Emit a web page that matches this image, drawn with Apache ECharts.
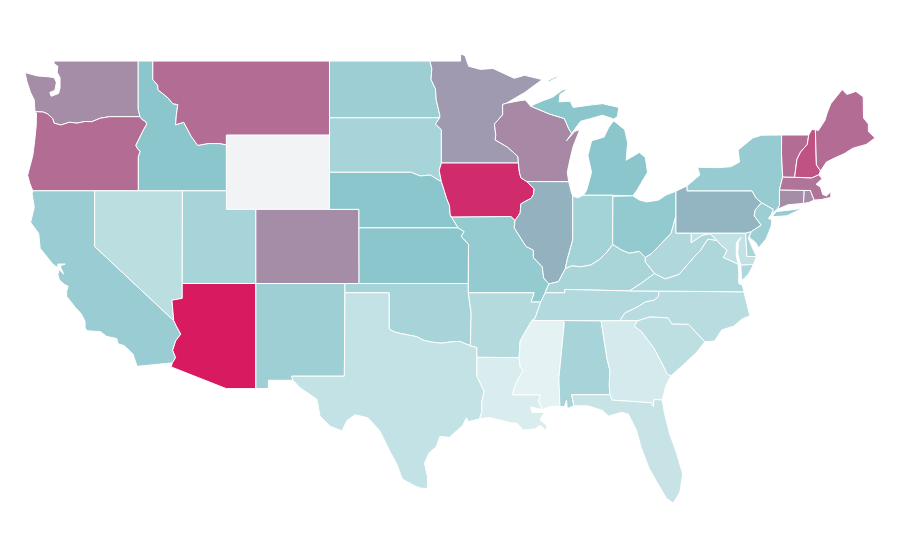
<html>
<head>
<meta charset="utf-8">
<script src="https://cdn.jsdelivr.net/npm/echarts@6/dist/echarts.min.js"></script>
<style>
html, body { margin: 0; background: #fff; }
#main { width: 900px; height: 560px; }
</style>
</head>
<body>
<div id="main"></div>
<script>
var stateNames = ['Washington','Oregon','California','Idaho','Nevada','Montana','Wyoming','Utah','Arizona','Colorado','New Mexico','North Dakota','South Dakota','Nebraska','Kansas','Oklahoma','Texas','Minnesota','Iowa','Missouri','Arkansas','Louisiana','Wisconsin','Illinois','Michigan','Indiana','Ohio','Kentucky','Tennessee','Mississippi','Alabama','Georgia','Florida','South Carolina','North Carolina','Virginia','West Virginia','Maryland','Delaware','Pennsylvania','New Jersey','New York','Connecticut','Rhode Island','Massachusetts','Vermont','New Hampshire','Maine'];
// Wyoming has no value in the picture
var stateValues = [67,76,42,50,24,76,null,35,100,67,40,41,35,50,50,35,20,63,95,45,28,8,68,56,50,37,46,34,29,2,35,11,18,23,26,31,30,21,34,55,41,44,67,67,74,76,84,76];
var colorStops = ['#e8f4f5','#8bc6cc','#d81b60'];
var noDataColor = '#f2f3f5';

// base map outlines, lon/lat pairs
var stateOutlines = {
Washington:[[-124.73,48.38,-124.6,47.9,-124.35,47.3,-124.1,46.9,-124.05,46.27,-123.5,46.25,-123.2,46.15,-122.85,45.9,-122.75,45.65,-122.3,45.55,-121.7,45.7,-121.2,45.65,-120.65,45.74,-120.2,45.73,-119.6,45.92,-118.98,46,-116.92,46,-117.04,46.4,-117.04,49,-122.76,49,-122.75,48.85,-122.5,48.72,-122.55,48.4,-122.35,48.1,-122.35,47.55,-122.45,47.25,-122.95,47.1,-123.05,47.3,-122.7,47.42,-122.6,47.85,-122.75,48.1,-123.15,48.15,-123.9,48.2]],
Oregon:[[-124.55,42.84,-124.4,43.3,-124.2,43.9,-124.07,44.7,-123.97,45.5,-123.95,46.2,-124.05,46.27,-123.5,46.25,-123.2,46.15,-122.85,45.9,-122.75,45.65,-122.3,45.55,-121.7,45.7,-121.2,45.65,-120.65,45.74,-120.2,45.73,-119.6,45.92,-118.98,46,-116.92,46,-116.78,45.85,-116.55,45.75,-116.46,45.6,-116.67,45.3,-116.85,45.02,-117.2,44.45,-117.05,44.23,-116.9,44.15,-117.03,43.83,-117.03,42,-124.2,42,-124.4,42.4]],
California:[[-124.2,42,-120,42,-120,39,-114.63,35,-114.45,34.7,-114.15,34.27,-114.5,33.9,-114.7,33.4,-114.5,33,-114.72,32.72,-117.12,32.53,-117.25,32.85,-117.4,33.2,-118,33.65,-118.4,33.75,-118.5,34.03,-119.2,34.15,-119.6,34.4,-120.5,34.45,-120.65,34.6,-120.65,34.95,-120.9,35.35,-121.3,35.7,-121.9,36.3,-121.9,36.6,-121.8,36.85,-122.05,36.95,-122.4,37.2,-122.5,37.5,-122.4,37.75,-122.1,37.5,-122.35,37.95,-122,38.05,-122.5,38.05,-122.5,37.85,-122.85,38.05,-123.7,38.9,-123.8,39.7,-124.35,40.3,-124.1,41.1,-124.25,41.85]],
Idaho:[[-117.04,49,-116.05,49,-116.05,48,-115.72,47.7,-115.7,47.45,-115,47,-114.7,46.7,-114.35,46.65,-114.45,46.1,-114.5,45.56,-113.95,45.7,-113.45,44.95,-113,44.45,-112.3,44.55,-111.5,44.55,-111.05,44.48,-111.05,42,-117.03,42,-117.03,43.83,-116.9,44.15,-117.05,44.23,-117.2,44.45,-116.85,45.02,-116.67,45.3,-116.46,45.6,-116.55,45.75,-116.78,45.85,-116.92,46,-117.04,46.4]],
Nevada:[[-120,42,-114.04,42,-114.05,37,-114.05,36.2,-114.75,36.1,-114.63,35,-120,39]],
Montana:[[-116.05,49,-104.05,49,-104.05,45,-111.05,45,-111.05,44.48,-111.5,44.55,-112.3,44.55,-113,44.45,-113.45,44.95,-113.95,45.7,-114.5,45.56,-114.45,46.1,-114.35,46.65,-114.7,46.7,-115,47,-115.7,47.45,-115.72,47.7,-116.05,48]],
Wyoming:[[-111.05,45,-104.05,45,-104.05,41,-111.05,41]],
Utah:[[-114.04,42,-111.05,42,-111.05,41,-109.05,41,-109.05,37,-114.05,37]],
Arizona:[[-114.05,37,-109.05,37,-109.05,31.33,-111.07,31.33,-114.8,32.5,-114.72,32.72,-114.5,33,-114.7,33.4,-114.5,33.9,-114.15,34.27,-114.45,34.7,-114.63,35,-114.75,36.1,-114.05,36.2]],
Colorado:[[-109.05,41,-102.05,41,-102.04,37,-109.05,37]],
'New Mexico':[[-109.05,37,-103,37,-103.04,32,-106.62,32,-106.53,31.78,-108.2,31.78,-108.2,31.33,-109.05,31.33]],
'North Dakota':[[-104.05,49,-97.23,49,-97.1,48.6,-97.15,48,-96.85,47.5,-96.8,46.9,-96.56,46.1,-96.56,45.94,-104.05,45.94]],
'South Dakota':[[-104.05,45.94,-96.56,45.94,-96.85,45.6,-96.45,45.3,-96.45,43.5,-96.6,43.1,-96.45,42.5,-96.7,42.6,-97.2,42.85,-97.9,42.8,-98.5,43,-104.05,43]],
Nebraska:[[-104.05,43,-98.5,43,-97.9,42.8,-97.2,42.85,-96.7,42.6,-96.45,42.5,-96.25,42,-96.1,41.6,-95.9,41.2,-95.85,40.7,-95.31,40,-102.05,40,-102.05,41,-104.05,41]],
Kansas:[[-102.05,40,-95.31,40,-94.9,39.8,-95.1,39.55,-94.61,39.11,-94.62,37,-102.04,37]],
Oklahoma:[[-103,37,-94.62,37,-94.62,36.5,-94.43,35.4,-94.48,33.64,-95.2,33.88,-95.8,33.85,-96.5,33.78,-97.2,33.85,-97.7,33.95,-98.1,34.13,-99.2,34.3,-99.7,34.4,-100,34.56,-100,36.5,-103,36.5]],
Texas:[[-103,36.5,-100,36.5,-100,34.56,-99.7,34.4,-99.2,34.3,-98.1,34.13,-97.7,33.95,-97.2,33.85,-96.5,33.78,-95.8,33.85,-95.2,33.88,-94.48,33.64,-94.04,33.55,-94.04,33.02,-94.04,32,-93.55,31.2,-93.7,30.6,-93.7,30.1,-93.85,29.7,-94.6,29.55,-94.75,29.75,-95,29.35,-95.9,28.7,-96.55,28.75,-96.8,28.2,-97.3,27.85,-97.6,27.3,-97.4,26.6,-97.4,25.95,-97.8,25.95,-98.3,26.1,-99.1,26.45,-99.5,27.3,-99.95,27.95,-100.63,29.05,-101.44,29.76,-102.33,29.92,-102.87,29.6,-103.2,29.05,-104,29.3,-104.7,29.86,-104.9,30.75,-106.05,31.38,-106.53,31.78,-106.62,32,-103.04,32]],
Minnesota:[[-97.23,49,-95.15,49,-95.15,49.38,-94.85,49.3,-94.6,48.72,-93.8,48.55,-92.95,48.6,-91.5,48.07,-90.8,48.23,-89.6,48,-90.8,47.3,-92.05,46.72,-92.29,46.66,-92.29,46.1,-92.85,45.6,-92.75,45,-92.8,44.75,-91.95,44.35,-91.25,43.85,-91.22,43.5,-96.45,43.5,-96.45,45.3,-96.85,45.6,-96.56,45.94,-96.56,46.1,-96.8,46.9,-96.85,47.5,-97.15,48,-97.1,48.6]],
Iowa:[[-96.45,43.5,-91.22,43.5,-91.15,43,-91.05,42.7,-90.65,42.5,-90.15,42.1,-90.2,41.8,-90.35,41.6,-91.05,41.3,-91.1,40.8,-91.45,40.4,-91.73,40.61,-95.77,40.58,-95.85,40.7,-95.9,41.2,-96.1,41.6,-96.25,42,-96.45,42.5,-96.6,43.1]],
Missouri:[[-95.77,40.58,-91.73,40.61,-91.45,40.4,-91.5,40,-90.7,39,-90.2,38.8,-90.2,38.4,-89.6,37.9,-89.5,37.3,-89.15,36.98,-89.4,36.5,-89.7,36,-90.37,36,-90.15,36.5,-94.62,36.5,-94.62,37,-94.61,39.11,-95.1,39.55,-94.9,39.8,-95.31,40,-95.85,40.7]],
Arkansas:[[-94.62,36.5,-90.15,36.5,-90.37,36,-89.7,36,-90.1,35.1,-90.3,35,-90.6,34.6,-91.1,33.9,-91.17,33,-94.04,33.02,-94.04,33.55,-94.48,33.64,-94.43,35.4]],
Louisiana:[[-94.04,33.02,-91.17,33,-91.1,32.5,-90.9,32.3,-91.4,31.6,-91.63,31,-89.73,31,-89.85,30.65,-89.6,30.2,-90.4,30.35,-90.3,30.05,-89.75,30.05,-89.45,30.05,-89.75,29.65,-89.3,29.35,-89.3,29.05,-89.75,29.35,-90.1,29.15,-90.9,29.1,-91.3,29.45,-91.8,29.5,-92.3,29.6,-93.2,29.77,-93.85,29.7,-93.7,30.1,-93.7,30.6,-93.55,31.2,-94.04,32]],
Wisconsin:[[-92.29,46.66,-92.05,46.72,-91.2,46.85,-90.75,46.9,-90.4,46.57,-89.1,46.14,-88.1,45.9,-87.8,45.35,-87.6,45.1,-87.95,44.7,-87.4,45.2,-87.05,45.3,-87.5,44.4,-87.7,43.75,-87.9,43,-87.8,42.49,-90.65,42.5,-91.05,42.7,-91.15,43,-91.22,43.5,-91.25,43.85,-91.95,44.35,-92.8,44.75,-92.75,45,-92.85,45.6,-92.29,46.1]],
Illinois:[[-90.65,42.5,-87.8,42.49,-87.6,41.85,-87.53,41.72,-87.53,39.35,-87.9,38.3,-88.03,37.8,-88.5,37.1,-89.15,36.98,-89.5,37.3,-89.6,37.9,-90.2,38.4,-90.2,38.8,-90.7,39,-91.5,40,-91.45,40.4,-91.1,40.8,-91.05,41.3,-90.35,41.6,-90.2,41.8,-90.15,42.1]],
Michigan:[[-90.4,46.57,-89.1,46.14,-88.1,45.9,-87.8,45.35,-87.6,45.1,-87,45.75,-86.3,45.9,-85.5,46.08,-84.75,45.87,-84.5,46,-84.4,46.5,-85.5,46.7,-86.1,46.65,-87.5,46.5,-87.7,46.83,-88.45,46.8,-88.4,47.2,-87.9,47.45,-88.2,47.45,-88.9,47.05,-89.6,46.85],[-84.8,41.76,-83.45,41.73,-83.15,42.05,-82.9,42.4,-82.45,43,-82.6,43.8,-83,44.07,-83.9,43.65,-83.8,44.6,-84,45.3,-84.75,45.78,-85.1,45.4,-85.4,44.9,-86.25,44.7,-86.5,43.9,-86.25,43,-86.6,42,-86.82,41.76],[-89.2,47.85,-88.5,48.15,-88.7,48.15,-89.2,47.95]],
Indiana:[[-87.53,41.72,-87.2,41.62,-86.82,41.76,-84.8,41.76,-84.82,39.1,-85.2,38.7,-85.7,38.3,-86.3,38,-87,37.9,-87.6,37.95,-88.03,37.8,-87.9,38.3,-87.53,39.35]],
Ohio:[[-84.8,41.7,-83.45,41.73,-83,41.5,-82.5,41.4,-81.7,41.5,-81.2,41.77,-80.52,41.98,-80.52,40.64,-80.85,39.7,-81.7,39,-82.2,38.6,-82.6,38.4,-83,38.73,-83.7,38.63,-84.2,38.8,-84.82,39.1]],
Kentucky:[[-89.4,36.5,-88.07,36.5,-88.07,36.68,-83.68,36.6,-82.9,37,-81.97,37.54,-82.6,38.17,-82.6,38.4,-83,38.73,-83.7,38.63,-84.2,38.8,-84.82,39.1,-85.2,38.7,-85.7,38.3,-86.3,38,-87,37.9,-87.6,37.95,-88.03,37.8,-88.5,37.1,-89.15,36.98]],
Tennessee:[[-90.3,35,-88.2,35,-85.6,34.98,-84.32,35,-84,35.4,-83.1,35.75,-82.6,36,-82,36.1,-81.7,36.3,-81.68,36.59,-83.68,36.6,-88.07,36.68,-88.07,36.5,-89.4,36.5,-89.7,36,-90.1,35.1]],
Mississippi:[[-90.3,35,-88.2,35,-88.1,34.9,-88.47,31.9,-88.4,30.37,-89,30.38,-89.6,30.2,-89.85,30.65,-89.73,31,-91.63,31,-91.4,31.6,-90.9,32.3,-91.1,32.5,-91.17,33,-91.1,33.9,-90.6,34.6]],
Alabama:[[-88.2,35,-85.6,34.98,-85.18,32.87,-85,32.3,-85.05,31.55,-85,31,-87.6,31,-87.45,30.4,-87.9,30.25,-87.95,30.7,-88.1,30.35,-88.4,30.37,-88.47,31.9,-88.1,34.9]],
Georgia:[[-85.6,34.98,-83.1,35,-83.35,34.7,-82.85,34.4,-82,33.5,-81.4,32.6,-81.1,32.1,-80.85,32.03,-81.2,31.5,-81.45,30.72,-82,30.75,-82.05,30.36,-82.2,30.57,-84.86,30.71,-85,31,-85.05,31.55,-85,32.3,-85.18,32.87]],
Florida:[[-87.6,31,-85,31,-84.86,30.71,-82.2,30.57,-82.05,30.36,-82,30.75,-81.45,30.72,-81.3,30,-80.95,28.9,-80.5,27.9,-80.06,26.73,-80.25,25.75,-80.7,25.16,-81.15,25.4,-81.75,26.2,-82.35,27.05,-82.9,28.2,-83.2,29.1,-83.75,29.95,-84.2,30.05,-85.1,29.85,-85.5,30.15,-86.5,30.4,-87.45,30.4]],
'South Carolina':[[-83.1,35,-82.3,35.2,-81.05,35.15,-80.8,34.82,-79.67,34.8,-78.55,33.86,-79.1,33.3,-79.9,32.7,-80.85,32.03,-81.1,32.1,-81.4,32.6,-82,33.5,-82.85,34.4,-83.35,34.7]],
'North Carolina':[[-84.32,35,-83.1,35,-82.3,35.2,-81.05,35.15,-80.8,34.82,-79.67,34.8,-78.55,33.86,-77.9,33.9,-77.4,34.5,-76.6,34.7,-76,35.1,-75.5,35.25,-75.9,36.55,-81.68,36.59,-81.7,36.3,-82,36.1,-82.6,36,-83.1,35.75,-84,35.4]],
Virginia:[[-83.68,36.6,-81.68,36.59,-75.9,36.55,-76,36.9,-76.25,37,-76.25,37.6,-76.3,38.05,-77,38.3,-77.3,38.4,-77.04,38.8,-77.5,39.1,-77.72,39.32,-78.35,39.4,-78.87,38.77,-79.3,38.42,-80.3,37.5,-81.25,37.25,-81.97,37.54,-82.9,37],[-75.25,38.03,-76.12,38,-76.05,37.15,-75.6,37.5]],
'West Virginia':[[-82.6,38.17,-81.97,37.54,-81.25,37.25,-80.3,37.5,-79.3,38.42,-78.87,38.77,-78.35,39.4,-77.72,39.32,-78.2,39.69,-78.75,39.6,-79.48,39.2,-79.48,39.72,-80.52,39.72,-80.52,40.64,-80.85,39.7,-81.7,39,-82.2,38.6,-82.6,38.4]],
Maryland:[[-79.48,39.72,-75.79,39.72,-75.7,38.46,-75.05,38.45,-75.25,38.03,-76.12,38,-76.32,38.6,-76.28,39.2,-76.1,39.5,-76.42,39.2,-76.42,38.5,-76.3,38.05,-77,38.3,-77.3,38.4,-77.04,38.8,-77.5,39.1,-77.72,39.32,-78.2,39.69,-78.75,39.6,-79.48,39.2]],
Delaware:[[-75.79,39.72,-75.4,39.8,-75.6,39.45,-75.4,39.05,-75.05,38.45,-75.7,38.46]],
Pennsylvania:[[-80.52,41.98,-79.76,42.27,-79.76,42,-75.35,42,-75.07,41.6,-74.7,41.36,-75.13,40.97,-75.2,40.65,-74.73,40.15,-75.4,39.8,-75.79,39.72,-80.52,39.72]],
'New Jersey':[[-74.7,41.36,-75.13,40.97,-75.2,40.65,-74.73,40.15,-75.4,39.8,-75.55,39.5,-75.1,39.2,-74.9,38.93,-74.4,39.4,-74.05,40.1,-74,40.45,-74.25,40.5,-74.02,40.75,-73.9,41]],
'New York':[[-79.76,42.27,-79.76,42,-75.35,42,-75.07,41.6,-74.7,41.36,-73.9,41,-74.02,40.75,-73.65,41,-73.49,41.2,-73.49,42.05,-73.27,42.75,-73.35,44,-73.34,45.01,-74.7,45,-75.3,44.85,-76.3,44.2,-76.2,43.55,-76.8,43.3,-77.6,43.25,-79.05,43.27,-78.9,42.85],[-74,40.6,-73,40.65,-71.87,41.07,-72.6,40.98,-73.7,40.88]],
Connecticut:[[-73.49,42.05,-71.8,42.02,-71.86,41.32,-72.9,41.25,-73.65,41,-73.49,41.2]],
'Rhode Island':[[-71.8,42.02,-71.38,42.02,-71.33,41.9,-71.13,41.5,-71.5,41.37,-71.86,41.32]],
Massachusetts:[[-73.49,42.05,-71.8,42.02,-71.38,42.02,-71.33,41.9,-71.13,41.5,-70.65,41.53,-70,41.65,-70,41.95,-70.3,41.72,-70.55,41.8,-70.7,42.2,-71,42.35,-70.6,42.65,-70.82,42.87,-71.3,42.7,-72.46,42.73,-73.27,42.75]],
Vermont:[[-73.34,45.01,-71.5,45.01,-71.6,44.5,-72.05,44.1,-72.3,43.7,-72.46,42.73,-73.27,42.75,-73.35,44]],
'New Hampshire':[[-71.5,45.01,-71.3,45.3,-71.05,45.3,-70.98,43.4,-70.7,43.07,-70.82,42.87,-71.3,42.7,-72.46,42.73,-72.3,43.7,-72.05,44.1,-71.6,44.5]],
Maine:[[-71.05,45.3,-70.85,45.25,-70.4,45.8,-70.25,46.2,-70,46.7,-69.23,47.46,-68.9,47.2,-68.3,47.36,-67.8,47.07,-67.78,45.93,-67.45,45.6,-67.45,45.2,-67,44.85,-67.6,44.5,-68.5,44.3,-69.1,44,-69.8,43.75,-70.3,43.55,-70.7,43.07,-70.98,43.4]]
};

function toRing(flat) {
    var ring = [];
    for (var i = 0; i < flat.length; i += 2) ring.push([flat[i], flat[i + 1]]);
    ring.push([flat[0], flat[1]]);
    return ring;
}

var usa = {
    type: 'FeatureCollection',
    features: stateNames.map(function (name) {
        return {
            type: 'Feature',
            properties: { name: name },
            geometry: {
                type: 'MultiPolygon',
                coordinates: stateOutlines[name].map(function (r) { return [toRing(r)]; })
            }
        };
    })
};
echarts.registerMap('USA', usa);

var chart = echarts.init(document.getElementById('main'));
chart.setOption({
    animation: false,
    backgroundColor: '#fff',
    visualMap: {
        show: false,
        min: 0,
        max: 100,
        inRange: { color: colorStops }
    },
    series: [{
        type: 'map',
        map: 'USA',
        left: 25,
        top: 54,
        width: 850,
        height: 449,
        aspectScale: 0.796,
        silent: true,
        label: { show: false },
        itemStyle: { areaColor: noDataColor, borderColor: '#fff', borderWidth: 1 },
        data: stateNames.map(function (n, i) { return { name: n, value: stateValues[i] }; })
    }]
});
</script>
</body>
</html>
